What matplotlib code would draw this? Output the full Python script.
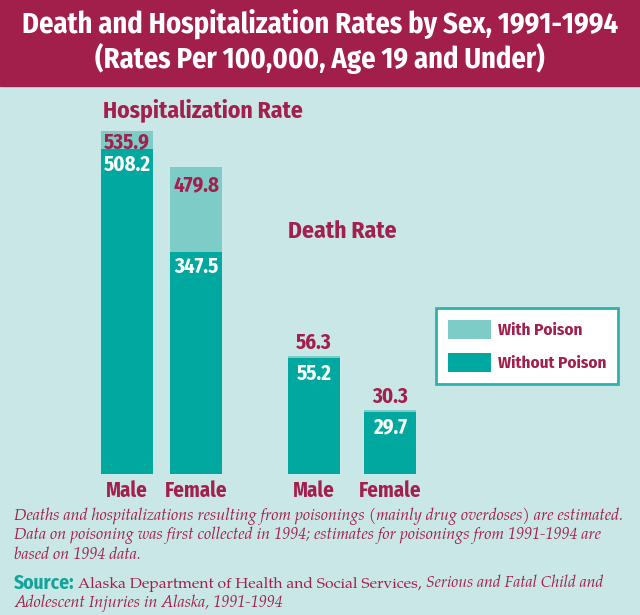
import matplotlib
matplotlib.use("Agg")
import matplotlib.pyplot as plt
from matplotlib.patches import Rectangle, Patch

# data
sexes = ["Male", "Female"]
hosp_total = [535.9, 479.8]
hosp_without = [508.2, 347.5]
death_total = [56.3, 30.3]
death_without = [55.2, 29.7]

BG = "#C9E7E6"
MAROON = "#A3204E"
DARK = "#00A89F"
LIGHT = "#7ECCC8"
TEAL_LINE = "#2DB3AC"
NARROW = ["Fira Sans Condensed", "PT Sans Narrow", "Encode Sans Semi Condensed",
          "Asap Condensed", "DejaVu Sans"]
SERIF = ["P052", "TeX Gyre Pagella", "Liberation Serif", "DejaVu Serif"]

W, H = 640, 615
fig = plt.figure(figsize=(W / 100, H / 100), dpi=100, facecolor=BG)


def px_axes(left, top, width, height):
    return fig.add_axes([left / W, 1 - (top + height) / H, width / W, height / H])


def pt(px):
    return px * 0.72


# title band
fig.patches.append(Rectangle((0, 1 - 86 / H), 1, 86 / H, transform=fig.transFigure,
                             color="#A21F4C", zorder=0))
fig.text(0.5, 1 - 24 / H, "Death and Hospitalization Rates by Sex, 1991-1994",
         ha="center", va="center", color="white", fontsize=20.5, fontweight="bold", family=NARROW)
fig.text(0.5, 1 - 59 / H, "(Rates Per 100,000, Age 19 and Under)",
         ha="center", va="center", color="white", fontsize=20.5, fontweight="bold", family=NARROW)


def draw_group(ax, total, without, ymax, width, total_inside, total_off):
    x = list(range(len(sexes)))
    ax.bar(x, without, width, color=DARK)
    ax.bar(x, [t - w for t, w in zip(total, without)], width, bottom=without, color=LIGHT)
    ax.set_xlim(-0.5, 1.5)
    ax.set_ylim(0, ymax)
    ax.set_xticks(x)
    ax.set_xticklabels(sexes, color=MAROON, fontsize=15, fontweight="bold", family=NARROW)
    ax.tick_params(axis="x", length=0, pad=pt(6))
    ax.set_yticks([])
    ax.patch.set_visible(False)
    for s in ax.spines.values():
        s.set_visible(False)
    for i in x:
        if total_inside:
            ax.annotate(f"{total[i]}", (i, total[i]), xytext=(0, -pt(total_off[i])),
                        textcoords="offset points", ha="center", va="top",
                        color=MAROON, fontsize=15, fontweight="bold", family=NARROW)
        else:
            ax.annotate(f"{total[i]}", (i, total[i]), xytext=(0, pt(total_off[i])),
                        textcoords="offset points", ha="center", va="bottom",
                        color=MAROON, fontsize=15, fontweight="bold", family=NARROW)
        ax.annotate(f"{without[i]}", (i, without[i]), xytext=(0, -pt(5)),
                    textcoords="offset points", ha="center", va="top",
                    color="white", fontsize=15, fontweight="bold", family=NARROW)


ax_h = px_axes(92.5, 100, 138, 374)
draw_group(ax_h, hosp_total, hosp_without, 374 / 0.64, 52 / 69, True, [0, 8])
ax_d = px_axes(276, 100, 152, 374)
draw_group(ax_d, death_total, death_without, 374 / 2.096, 52 / 76, False, [3, 3])

fig.text(103 / W, 1 - 110 / H, "Hospitalization Rate", ha="left", va="center",
         color=MAROON, fontsize=17, fontweight="bold", family=NARROW)
fig.text(288 / W, 1 - 231 / H, "Death Rate", ha="left", va="center",
         color=MAROON, fontsize=17, fontweight="bold", family=NARROW)

handles = [Patch(facecolor=LIGHT), Patch(facecolor=DARK)]
leg = fig.legend(handles, ["With Poison", "Without Poison"], loc="upper left",
                 bbox_to_anchor=(436 / W, 1 - 308 / H), borderaxespad=0,
                 prop=dict(family=NARROW, weight="bold", size=12.3), labelcolor=MAROON,
                 handlelength=2.5, handleheight=1.35, handletextpad=0.4,
                 labelspacing=0.8, borderpad=0.7, fancybox=False, framealpha=1)
leg.get_frame().set_edgecolor(TEAL_LINE)
leg.get_frame().set_linewidth(2)
leg.get_frame().set_facecolor("white")

note = ("Deaths and hospitalizations resulting from poisonings (mainly drug overdoses) are estimated.\n"
        "Data on poisoning was first collected in 1994; estimates for poisonings from 1991-1994 are\n"
        "based on 1994 data.")
fig.text(14 / W, 1 - 507 / H, note, ha="left", va="top", color=MAROON, fontsize=11.6,
         style="italic", family=SERIF, linespacing=1.17)

src = fig.text(14 / W, 1 - 593 / H, "Source:", ha="left", va="bottom", color="#12A39B",
               fontsize=14, fontweight="bold", family=NARROW)
t1 = ax_d.annotate(" Alaska Department of Health and Social Services, ", (1, 0), xycoords=src,
                   xytext=(0, 1), textcoords="offset points",
                   ha="left", va="bottom", color=MAROON, fontsize=11.3, family=SERIF,
                   annotation_clip=False)
ax_d.annotate("Serious and Fatal Child and", (1, 0), xycoords=t1, ha="left", va="bottom",
              color=MAROON, fontsize=11.3, family=SERIF, style="italic", annotation_clip=False)
fig.text(14 / W, 1 - 612 / H, "Adolescent Injuries in Alaska, 1991-1994", ha="left",
         va="bottom", color=MAROON, fontsize=11.6, family=SERIF, style="italic")

fig.savefig("out.png", dpi=100, facecolor=BG)
